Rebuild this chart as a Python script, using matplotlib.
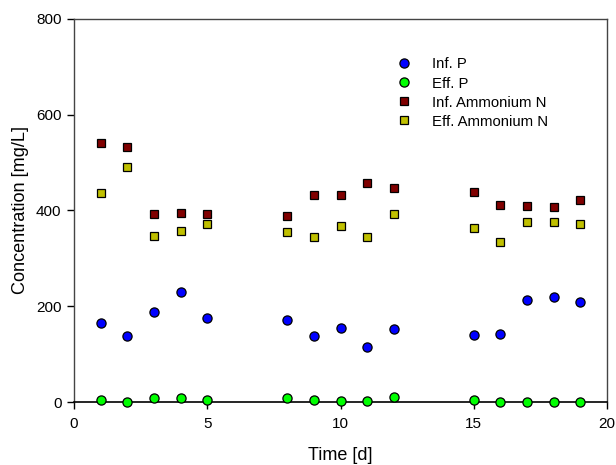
import matplotlib
matplotlib.use("Agg")
import matplotlib.pyplot as plt

plt.rcParams['font.family'] = ['Liberation Sans', 'DejaVu Sans']

days = [1, 2, 3, 4, 5, 8, 9, 10, 11, 12, 15, 16, 17, 18, 19]
inf_p = [164, 138, 188, 230, 175, 172, 138, 154, 114, 152, 140, 142, 214, 220, 208]
eff_p = [4, 0, 8, 8, 4, 9, 4, 3, 2, 10, 5, 0, 0, 0, 0]
inf_nh4 = [540, 533, 392, 395, 393, 389, 432, 432, 458, 448, 439, 412, 410, 407, 421]
eff_nh4 = [437, 491, 346, 358, 371, 356, 344, 368, 345, 392, 364, 335, 376, 376, 371]

fig = plt.figure(figsize=(6.16, 4.65), dpi=100)
ax = fig.add_axes([74/616, 1-402/465, 533/616, 383/465])

ax.plot(days, inf_p, 'o', color='#0000ff', mec='black', mew=0.9, ms=6.6, label='Inf. P', clip_on=False, zorder=3)
ax.plot(days, eff_p, 'o', color='#00ff00', mec='black', mew=0.9, ms=6.6, label='Eff. P', clip_on=False, zorder=3)
ax.plot(days, inf_nh4, 's', color='#800000', mec='black', mew=0.9, ms=5.8, label='Inf. Ammonium N', clip_on=False, zorder=3)
ax.plot(days, eff_nh4, 's', color='#c0c000', mec='black', mew=0.9, ms=5.8, label='Eff. Ammonium N', clip_on=False, zorder=3)

ax.set_xlim(0, 20)
ax.set_ylim(0, 800)
ax.set_xticks([0, 5, 10, 15, 20])
ax.set_yticks([0, 200, 400, 600, 800])
ax.tick_params(direction='out', length=5, width=1, labelsize=11, top=False, right=False, pad=4)
ax.tick_params(axis='x', pad=6)
for s in ['top', 'right', 'left']:
    ax.spines[s].set_color('#444444')
    ax.spines[s].set_linewidth(1.0)
ax.spines['bottom'].set_color('black')
ax.spines['bottom'].set_linewidth(1.2)

ax.set_xlabel('Time [d]', fontsize=13, labelpad=11)
ax.set_ylabel('Concentration [mg/L]', fontsize=13.1, labelpad=5)

leg = ax.legend(loc='upper left', bbox_to_anchor=(0.594, 0.915), frameon=False,
                fontsize=10.7, handletextpad=1.37, labelspacing=0.34, borderaxespad=0,
                handlelength=1.0)

fig.savefig('out.png', dpi=100)
